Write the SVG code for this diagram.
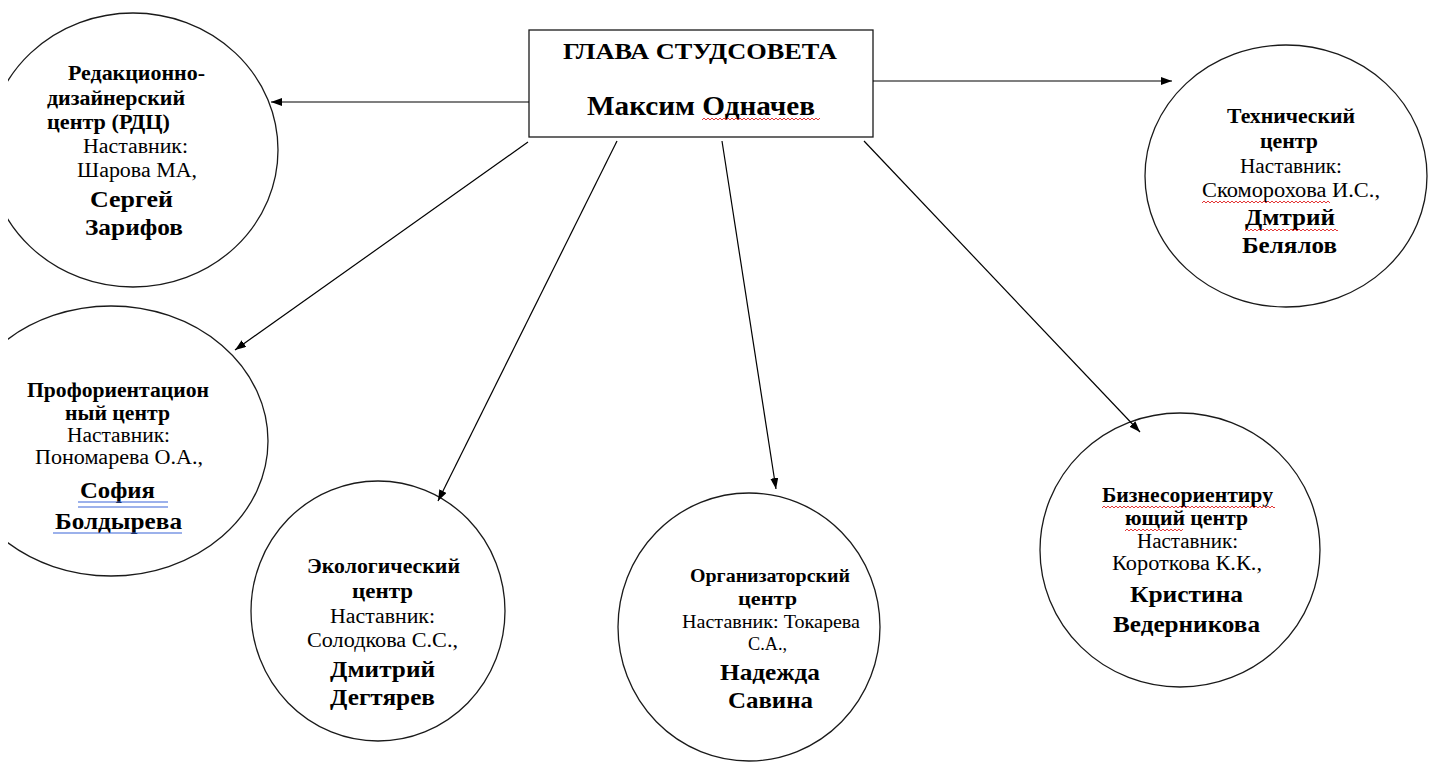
<svg xmlns="http://www.w3.org/2000/svg" width="1429" height="765" viewBox="0 0 1429 765">
<style>
  .shape { fill: #fff; stroke: #1a1a1a; stroke-width: 1.3; }
  .conn { stroke: #000; stroke-width: 1.2; fill: none; marker-end: url(#arrow); }
  text { font-family: "Liberation Serif", "Times New Roman", serif; fill: #000; text-anchor: middle; }
  .lbl { font-weight: bold; font-size: 20px; }
  .reg { font-size: 20px; }
  .nm { font-weight: bold; font-size: 23px; }
  .olbl { font-weight: bold; font-size: 18px; }
  .oreg { font-size: 19px; }
  .hd1 { font-weight: bold; font-size: 23px; }
  .hd2 { font-weight: bold; font-size: 27px; }
  .blue { stroke: #3a64d8; stroke-width: 1.2; }
</style>
<defs>
  <marker id="arrow" markerUnits="userSpaceOnUse" markerWidth="12" markerHeight="9" refX="11" refY="4" orient="auto">
    <path d="M0,0 L11,4 L0,8 z" fill="#000"/>
  </marker>
  <pattern id="wavy" width="4" height="4" patternUnits="userSpaceOnUse">
    <path d="M0,3 L2,1 L4,3" fill="none" stroke="#e02020" stroke-width="0.9"/>
  </pattern>
  <clipPath id="page">
    <rect x="8" y="0" width="1421" height="765"/>
  </clipPath>
</defs>
<rect width="1429" height="765" fill="#fff"/>

<g id="head">
  <rect class="shape" x="529" y="30" width="344" height="107"/>
  <text class="hd1" x="700" y="59" textLength="274" lengthAdjust="spacingAndGlyphs">ГЛАВА СТУДСОВЕТА</text>
  <text class="hd2" x="701" y="115" textLength="228" lengthAdjust="spacingAndGlyphs">Максим Одначев</text>
  <rect x="0" y="0" width="118" height="4" fill="url(#wavy)" transform="translate(702,117)"/>
</g>

<g id="rdc">
  <ellipse class="shape" cx="133" cy="150" rx="145" ry="137" clip-path="url(#page)"/>
  <text class="lbl" x="136.5" y="80" textLength="137" lengthAdjust="spacingAndGlyphs">Редакционно-</text>
  <text class="lbl" x="116" y="105" textLength="138" lengthAdjust="spacingAndGlyphs">дизайнерский</text>
  <text class="lbl" x="108.5" y="129" textLength="123" lengthAdjust="spacingAndGlyphs">центр (РДЦ)</text>
  <text class="reg" x="135.5" y="153" textLength="105" lengthAdjust="spacingAndGlyphs">Наставник:</text>
  <text class="reg" x="137" y="177" textLength="120" lengthAdjust="spacingAndGlyphs">Шарова МА,</text>
  <text class="nm" x="131.5" y="207" textLength="83" lengthAdjust="spacingAndGlyphs">Сергей</text>
  <text class="nm" x="134" y="235" textLength="98" lengthAdjust="spacingAndGlyphs">Зарифов</text>
</g>

<g id="prof">
  <ellipse class="shape" cx="111" cy="441" rx="157" ry="135" clip-path="url(#page)"/>
  <text class="lbl" x="118" y="397" textLength="182" lengthAdjust="spacingAndGlyphs">Профориентацион</text>
  <text class="lbl" x="117.5" y="420" textLength="105" lengthAdjust="spacingAndGlyphs">ный центр</text>
  <text class="reg" x="118.5" y="442" textLength="103" lengthAdjust="spacingAndGlyphs">Наставник:</text>
  <text class="reg" x="119" y="464" textLength="168" lengthAdjust="spacingAndGlyphs">Пономарева О.А.,</text>
  <text class="nm" x="117.5" y="498" textLength="75" lengthAdjust="spacingAndGlyphs">София</text>
  <line class="blue" x1="78" y1="502" x2="168" y2="502"/>
  <line class="blue" x1="78" y1="507" x2="168" y2="507"/>
  <text class="nm" x="118.5" y="529" textLength="127" lengthAdjust="spacingAndGlyphs">Болдырева</text>
  <line class="blue" x1="53" y1="533" x2="182" y2="533"/>
</g>

<g id="eco">
  <ellipse class="shape" cx="378" cy="611" rx="127" ry="130"/>
  <text class="lbl" x="383.5" y="573" textLength="153" lengthAdjust="spacingAndGlyphs">Экологический</text>
  <text class="lbl" x="382.5" y="598" textLength="61" lengthAdjust="spacingAndGlyphs">центр</text>
  <text class="reg" x="382.5" y="623" textLength="105" lengthAdjust="spacingAndGlyphs">Наставник:</text>
  <text class="reg" x="382.5" y="647" textLength="151" lengthAdjust="spacingAndGlyphs">Солодкова С.С.,</text>
  <text class="nm" x="382.5" y="677" textLength="105" lengthAdjust="spacingAndGlyphs">Дмитрий</text>
  <text class="nm" x="382.5" y="705" textLength="105" lengthAdjust="spacingAndGlyphs">Дегтярев</text>
</g>

<g id="org">
  <ellipse class="shape" cx="749" cy="627" rx="131" ry="134"/>
  <text class="olbl" x="770" y="582" textLength="160" lengthAdjust="spacingAndGlyphs">Организаторский</text>
  <text class="olbl" x="767.5" y="605" textLength="59" lengthAdjust="spacingAndGlyphs">центр</text>
  <text class="oreg" x="771" y="628" textLength="178" lengthAdjust="spacingAndGlyphs">Наставник: Токарева</text>
  <text class="oreg" x="767.5" y="650" textLength="39" lengthAdjust="spacingAndGlyphs">С.А.,</text>
  <text class="nm" x="770" y="680" textLength="100" lengthAdjust="spacingAndGlyphs">Надежда</text>
  <text class="nm" x="770.5" y="708" textLength="85" lengthAdjust="spacingAndGlyphs">Савина</text>
</g>

<g id="biz">
  <ellipse class="shape" cx="1180" cy="550" rx="140" ry="137"/>
  <text class="lbl" x="1187.5" y="502" textLength="171" lengthAdjust="spacingAndGlyphs">Бизнесориентиру</text>
  <rect x="0" y="0" width="173" height="4" fill="url(#wavy)" transform="translate(1102,505)"/>
  <text class="lbl" x="1186.5" y="525" textLength="123" lengthAdjust="spacingAndGlyphs">ющий центр</text>
  <rect x="0" y="0" width="58" height="4" fill="url(#wavy)" transform="translate(1125,528)"/>
  <text class="reg" x="1187.5" y="548" textLength="101" lengthAdjust="spacingAndGlyphs">Наставник:</text>
  <text class="reg" x="1187" y="570" textLength="150" lengthAdjust="spacingAndGlyphs">Короткова К.К.,</text>
  <text class="nm" x="1186.5" y="602" textLength="113" lengthAdjust="spacingAndGlyphs">Кристина</text>
  <text class="nm" x="1186.5" y="632" textLength="147" lengthAdjust="spacingAndGlyphs">Ведерникова</text>
</g>

<g id="tech">
  <ellipse class="shape" cx="1286" cy="176" rx="141" ry="131"/>
  <text class="lbl" x="1291" y="123" textLength="128" lengthAdjust="spacingAndGlyphs">Технический</text>
  <text class="lbl" x="1289" y="148" textLength="58" lengthAdjust="spacingAndGlyphs">центр</text>
  <text class="reg" x="1291" y="173" textLength="102" lengthAdjust="spacingAndGlyphs">Наставник:</text>
  <text class="reg" x="1291" y="197" textLength="178" lengthAdjust="spacingAndGlyphs">Скоморохова И.С.,</text>
  <rect x="0" y="0" width="128" height="4" fill="url(#wavy)" transform="translate(1202,200)"/>
  <text class="nm" x="1290" y="225" textLength="90" lengthAdjust="spacingAndGlyphs">Дмтрий</text>
  <rect x="0" y="0" width="93" height="4" fill="url(#wavy)" transform="translate(1245,228)"/>
  <text class="nm" x="1289.5" y="253" textLength="95" lengthAdjust="spacingAndGlyphs">Белялов</text>
</g>

<g id="connectors">
  <line class="conn" x1="529" y1="102" x2="271" y2="102"/>
  <line class="conn" x1="873" y1="81" x2="1172" y2="81"/>
  <line class="conn" x1="528" y1="142" x2="235" y2="350"/>
  <line class="conn" x1="617" y1="141" x2="438" y2="501"/>
  <line class="conn" x1="722" y1="141" x2="776" y2="489"/>
  <line class="conn" x1="864" y1="141" x2="1140" y2="432"/>
</g>
</svg>
